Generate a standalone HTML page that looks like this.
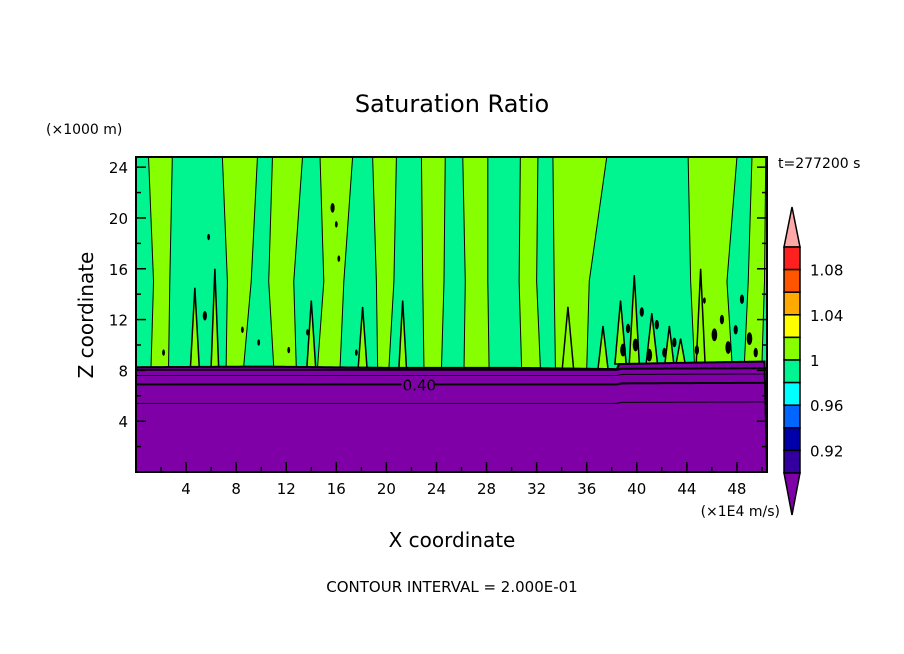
<!DOCTYPE html>
<html><head><meta charset="utf-8"><style>
body{margin:0;background:#fff;}
svg{display:block;font-family:"DejaVu Sans","Liberation Sans",sans-serif;}
</style></head><body>
<svg id="chart" width="904" height="654" viewBox="0 0 904 654">
<text x="452" y="112" font-size="24" text-anchor="middle">Saturation Ratio</text>
<text x="46" y="134" font-size="14">(×1000 m)</text>
<text x="93" y="315" font-size="20" text-anchor="middle" transform="rotate(-90 93 315)">Z coordinate</text>
<text x="452" y="547" font-size="20" text-anchor="middle">X coordinate</text>
<text x="780" y="516" font-size="14" text-anchor="end">(×1E4 m/s)</text>
<text x="452" y="592" font-size="15" text-anchor="middle">CONTOUR INTERVAL = 2.000E-01</text>
<text x="778" y="168" font-size="14">t=277200 s</text>
<g id="plot"></g>
<g id="cbar"></g>
</svg>
<script>
// ---- data ----
const xTicks=[4,8,12,16,20,24,28,32,36,40,44,48];
const yTicks=[4,8,12,16,20,24];
// yellow-green (1.00-1.02) columns: edges at top, mid (z=15) and bottom
const bandX0Top=[1.0,6.9,10.9,14.7,18.9,22.8,26.1,30.7,33.3,44.1,49.2];
const bandX1Top=[2.9,9.7,13.3,17.3,20.8,24.7,28.1,32.1,37.6,48.0,50.3];
const bandX0Mid=[1.4,7.3,10.6,15.0,19.2,22.9,26.3,30.6,33.4,44.3,48.9];
const bandX1Mid=[2.7,9.2,12.6,16.6,20.6,24.6,28.1,32.0,36.2,47.2,50.2];
const bandX0Bot=[1.2,7.2,11.0,14.5,19.3,23.0,26.2,30.8,33.5,44.6,48.6];
const bandX1Bot=[2.6,8.6,12.8,16.3,20.2,24.4,28.2,32.3,36.0,47.6,50.0];
// narrow yellow-green spikes rising from the inversion: center, half-width, top z
const spikeX=[4.7,6.3,14.0,18.1,21.3,34.5,37.3,38.7,39.8,41.2,42.6,43.5,45.1];
const spikeW=[0.35,0.3,0.35,0.35,0.3,0.45,0.4,0.45,0.4,0.45,0.35,0.35,0.35];
const spikeZ=[14.5,16,13.5,13,13.5,13,11.5,13.5,15.5,12.5,11.5,10.5,16];
// dark speckle clusters (x, z, size in px)
const blobX=[5.5,5.8,9.8,13.7,15.7,16.0,16.2,38.9,39.3,39.9,40.4,41.0,41.6,42.2,43.0,44.8,45.4,46.2,46.8,47.3,47.9,48.4,49.0,49.5,2.2,12.2,17.6,8.5];
const blobZ=[12.3,18.5,10.2,11.0,20.8,19.5,16.8,9.6,11.3,10.0,12.6,9.2,11.6,9.4,10.2,9.6,13.5,10.8,12.0,9.8,11.2,13.6,10.5,9.4,9.4,9.6,9.4,11.2];
const blobR=[3,2,2,2,3,2,2,4,3,4,3,4,3,3,3,3,2,4,3,4,3,3,4,3,2,2,2,2];
// contour levels inside purple layer (z values) and line widths
const contourZ=[8.05,7.6,6.9,5.4];
const contourThick=[2,1,2,1];
// inversion top height at selected x
const invX=[0,10,20,30,38.4,38.6,44,50.4];
const invZ=[8.25,8.3,8.2,8.2,8.1,8.5,8.6,8.7];
// colorbar
const cbColors=["#ff2020","#ff5500","#ffaa00","#ffff00","#88ff00","#00f590","#00ffff","#0066ff","#0000aa","#3300a0"];
const cbLabels=["1.08","1.04","1","0.96","0.92"];
// ---- geometry ----
const L=136,R=767,T=157,B=472;
const xs=v=>L+v*(631/50.4);
const ys=v=>B-v*(315/24.8);
const NS="http://www.w3.org/2000/svg";
const plot=document.getElementById('plot');
function mk(tag,attrs,parent){const e=document.createElementNS(NS,tag);for(const k in attrs)e.setAttribute(k,attrs[k]);(parent||plot).appendChild(e);return e;}
function invAt(x){for(let i=1;i<invX.length;i++){if(x<=invX[i]){const t=(x-invX[i-1])/(invX[i]-invX[i-1]);return invZ[i-1]+t*(invZ[i]-invZ[i-1]);}}return invZ[invZ.length-1];}
let e=mk('rect',{x:L,y:T,width:R-L,height:B-T,fill:"#00f590"});


const bandG=mk('g',{});


for(let i=0;i<bandX0Top.length;i++){
  const zb0=invAt(bandX0Bot[i]),zb1=invAt(bandX1Bot[i]);
  const pts=[[xs(bandX0Top[i]),T],[xs(bandX1Top[i]),T],[xs(bandX1Mid[i]),ys(15)],[xs(bandX1Bot[i]),ys(zb1)],[xs(bandX0Bot[i]),ys(zb0)],[xs(bandX0Mid[i]),ys(15)]];
  const p=mk('polygon',{points:pts.map(q=>q.join(',')).join(' '),fill:"#88ff00",stroke:"#000","stroke-width":1},bandG);
  
  
}
for(let i=0;i<spikeX.length;i++){
  const zb=invAt(spikeX[i]);
  const pts=[[xs(spikeX[i]-spikeW[i]),ys(zb)],[xs(spikeX[i]),ys(spikeZ[i])],[xs(spikeX[i]+spikeW[i]),ys(zb)]];
  const p=mk('polygon',{points:pts.map(q=>q.join(',')).join(' '),fill:"#88ff00",stroke:"#000","stroke-width":1.5},bandG);
  
  
}
const blobG=mk('g',{});


for(let i=0;i<blobX.length;i++){
  const b=mk('ellipse',{cx:xs(blobX[i]),cy:ys(blobZ[i]),rx:blobR[i]*0.7,ry:blobR[i]*1.6,fill:"#000"},blobG);
  
  
}
// purple layer
let pp=[];for(let x=0;x<=50.4;x+=0.2)pp.push([xs(x),ys(invAt(x))]);
pp.push([R,B],[L,B]);
e=mk('polygon',{points:pp.map(q=>q.join(',')).join(' '),fill:"#7f00a6",stroke:"#000","stroke-width":2});


for(let c=0;c<contourZ.length;c++){
  let d="";for(let x=0;x<=50.4;x+=0.4){const z=contourZ[c]+(x>38.5?0.2*(invAt(x)-8.1):0);d+=(x==0?"M":"L")+xs(x)+","+ys(z);}
  const l=mk('path',{d:d,fill:"none",stroke:"#000","stroke-width":contourThick[c]});
  
  
}
e=mk('rect',{x:xs(21.2),y:ys(6.9)-8,width:32,height:14,fill:"#7f00a6"});


e=mk('text',{x:xs(21.3),y:ys(6.9)+6,"font-size":15,fill:"#000"});e.textContent="0.40";


// frame & ticks
e=mk('rect',{x:L,y:T,width:R-L,height:B-T,fill:"none",stroke:"#000","stroke-width":2});


for(let v=2;v<=50;v+=2){const maj=v%4==0,len=maj?10:5;
  let t=mk('line',{x1:xs(v),x2:xs(v),y1:B,y2:B-len,stroke:"#000","stroke-width":1.5});
  
  
}
for(let v=2;v<=24;v+=2){const maj=v%4==0,len=maj?10:5;
  let t=mk('line',{x1:L,x2:L+len,y1:ys(v),y2:ys(v),stroke:"#000","stroke-width":1.5});
  
  
  t=mk('line',{x1:R,x2:R-len,y1:ys(v),y2:ys(v),stroke:"#000","stroke-width":1.5});
  
  
}
xTicks.forEach(v=>{const t=mk('text',{x:xs(v),y:B+22,"font-size":15,"text-anchor":"middle"});t.textContent=v;
  
  });
yTicks.forEach(v=>{const t=mk('text',{x:L-8,y:ys(v)+6,"font-size":15,"text-anchor":"end"});t.textContent=v;
  
  });
// colorbar
const cb=document.getElementById('cbar');
const cx0=784,cx1=800,cTop=247,cH=22.6;
e=mk('polygon',{points:`${cx0},${cTop} ${(cx0+cx1)/2},207 ${cx1},${cTop}`,fill:"#ffa8a8",stroke:"#000","stroke-width":1.5},cb);


cbColors.forEach((c,i)=>{const r=mk('rect',{x:cx0,y:cTop+i*cH,width:cx1-cx0,height:cH,fill:c,stroke:"#000","stroke-width":1.5},cb);
  
  });
const cBot=cTop+cbColors.length*cH;
e=mk('polygon',{points:`${cx0},${cBot} ${(cx0+cx1)/2},515 ${cx1},${cBot}`,fill:"#8000a8",stroke:"#000","stroke-width":1.5},cb);


cbLabels.forEach((s,i)=>{const t=mk('text',{x:810,y:cTop+(1+2*i)*cH+6,"font-size":15},cb);t.textContent=s;
  
  });
</script>
</body></html>
